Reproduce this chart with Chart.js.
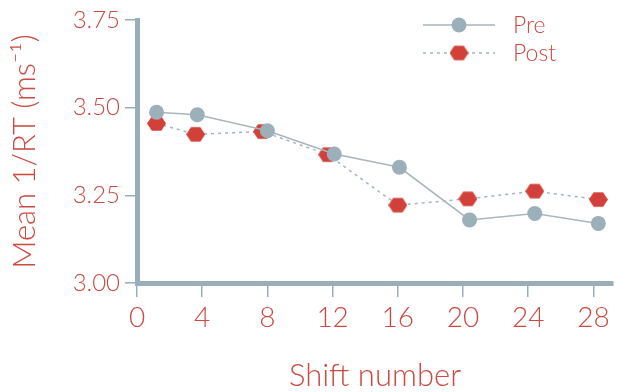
<!DOCTYPE html>
<html>
<head>
<meta charset="utf-8">
<script src="https://cdn.jsdelivr.net/npm/chart.js@4"></script>
<style>
  body { margin: 0; background: #fff; }
  #wrap { width: 631px; height: 392px; position: relative; }
</style>
</head>
<body>
<div id="wrap"><canvas id="myChart"></canvas></div>
<script>
// data
const seriesNames = ['Pre', 'Post'];
const preShift = [1.2, 3.7, 8.0, 12.1, 16.1, 20.4, 24.4, 28.3];
const preValues = [3.487, 3.48, 3.434, 3.368, 3.33, 3.18, 3.198, 3.17];
const postShift = [1.2, 3.6, 7.7, 11.7, 16.0, 20.3, 24.4, 28.3];
const postValues = [3.455, 3.424, 3.432, 3.366, 3.222, 3.24, 3.262, 3.238];
const xTicks = [0, 4, 8, 12, 16, 20, 24, 28];
const yTicks = [3.0, 3.25, 3.5, 3.75];

const red = '#cc4a42';
const axisGrey = '#9aaeb7';

// hexagon marker for Post
const hex = document.createElement('canvas');
hex.width = 19;
hex.height = 17;
const hctx = hex.getContext('2d');
hctx.fillStyle = '#d2403a';
hctx.beginPath();
for (let i = 0; i < 6; i++) {
  const a = (Math.PI / 3) * i;
  const px = 9.5 + 9.5 * Math.cos(a);
  const py = 8.5 + 8.5 * Math.sin(a);
  if (i === 0) hctx.moveTo(px, py);
  else hctx.lineTo(px, py);
}
hctx.closePath();
hctx.fill();

const toPoints = (xs, ys) => xs.map((x, i) => ({ x: x, y: ys[i] }));

// legend: line with marker in the middle, label to the right
const lineLegend = {
  id: 'lineLegend',
  afterDraw(chart) {
    const c = chart.ctx;
    const rows = [25, 53];
    chart.data.datasets.forEach((ds, i) => {
      const y = rows[i];
      c.save();
      c.strokeStyle = ds.borderColor;
      c.lineWidth = ds.borderWidth;
      c.setLineDash(ds.borderDash || []);
      c.beginPath();
      c.moveTo(423, y);
      c.lineTo(495, y);
      c.stroke();
      c.setLineDash([]);
      if (ds.pointStyle === 'circle') {
        c.fillStyle = ds.pointBackgroundColor;
        c.beginPath();
        c.arc(459, y, ds.pointRadius, 0, Math.PI * 2);
        c.fill();
      } else {
        c.drawImage(ds.pointStyle, 459 - ds.pointStyle.width / 2, y - ds.pointStyle.height / 2);
      }
      c.fillStyle = red;
      c.font = '300 23px Lato';
      c.textBaseline = 'middle';
      c.fillText(ds.label, 513, y + 1);
      c.restore();
    });
  }
};

const ctx = document.getElementById('myChart');

new Chart(ctx, {
  type: 'line',
  data: {
    datasets: [
      {
        label: seriesNames[0],
        data: toPoints(preShift, preValues),
        borderColor: '#a9b6bb',
        borderWidth: 1.5,
        pointStyle: 'circle',
        pointRadius: 7.5,
        pointBackgroundColor: '#9cb0b9',
        pointBorderWidth: 0,
        tension: 0,
      },
      {
        label: seriesNames[1],
        data: toPoints(postShift, postValues),
        borderColor: '#a3b4c2',
        borderWidth: 1.5,
        borderDash: [3, 4],
        pointStyle: hex,
        pointRadius: 8,
        pointBackgroundColor: '#d2403a',
        pointBorderWidth: 0,
        tension: 0,
      },
    ],
  },
  options: {
    responsive: true,
    maintainAspectRatio: false,
    animation: false,
    events: [],
    layout: { padding: { top: 20, right: 18, left: 0, bottom: 0 } },
    plugins: {
      legend: { display: false },
      tooltip: { enabled: false },
    },
    scales: {
      x: {
        type: 'linear',
        min: 0,
        max: 29.2,
        afterBuildTicks: (scale) => {
          scale.ticks = xTicks.map((v) => ({ value: v }));
        },
        afterFit: (scale) => {
          scale.height = 109;
        },
        ticks: {
          color: red,
          font: { family: 'Lato', size: 28, weight: 300 },
          padding: 4,
          maxRotation: 0,
          autoSkip: false,
        },
        grid: {
          drawOnChartArea: false,
          drawTicks: true,
          tickLength: 14,
          tickColor: axisGrey,
          lineWidth: 1.5,
        },
        border: { display: true, width: 5, color: axisGrey },
        title: {
          display: true,
          text: 'Shift number',
          color: red,
          font: { family: 'Lato', size: 31, weight: 300 },
          padding: { top: 0, bottom: -3 },
        },
      },
      y: {
        min: 3.0,
        max: 3.75,
        afterBuildTicks: (scale) => {
          scale.ticks = yTicks.map((v) => ({ value: v }));
        },
        afterFit: (scale) => {
          scale.width = 137;
        },
        ticks: {
          color: red,
          font: { family: 'Lato', size: 24, weight: 300 },
          padding: 5,
          callback: (v) => v.toFixed(2),
        },
        grid: {
          drawOnChartArea: false,
          drawTicks: true,
          tickLength: 12,
          tickColor: axisGrey,
          lineWidth: 1.5,
        },
        border: { display: true, width: 5, color: axisGrey },
        title: {
          display: true,
          text: 'Mean 1/RT (ms⁻¹)',
          color: red,
          font: { family: 'Lato', size: 31, weight: 300 },
          padding: { top: 6, bottom: 0 },
        },
      },
    },
  },
  plugins: [lineLegend],
});
</script>
</body>
</html>
